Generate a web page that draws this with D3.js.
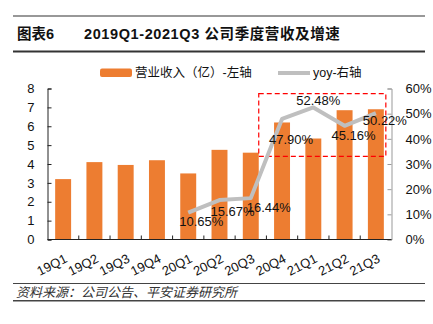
<!DOCTYPE html>
<html>
<head>
<meta charset="utf-8">
<script src="https://cdn.jsdelivr.net/npm/d3@7"></script>
<style>
  body { margin: 0; background: #fff; }
  svg { display: block; font-family: "Liberation Sans", Arial, "Noto Sans CJK SC", sans-serif; }
</style>
</head>
<body>
<svg id="chart" width="433" height="324"></svg>
<script>
const quarters = ["19Q1", "19Q2", "19Q3", "19Q4", "20Q1", "20Q2", "20Q3", "20Q4", "21Q1", "21Q2", "21Q3"];
const revenue = [3.2, 4.1, 3.95, 4.2, 3.5, 4.75, 4.6, 6.2, 5.35, 6.85, 6.9];
const yoyQuarters = ["20Q1", "20Q2", "20Q3", "20Q4", "21Q1", "21Q2", "21Q3"];
const yoy = [10.65, 15.67, 16.44, 47.90, 52.48, 45.16, 50.22];
const leftTicks = [0, 1, 2, 3, 4, 5, 6, 7, 8];
const rightTicks = [0, 10, 20, 30, 40, 50, 60];

const svg = d3.select("#chart");
const cjk = "'Liberation Sans', 'Noto Sans CJK SC', sans-serif";

// header
svg.append("line").attr("x1", 13).attr("x2", 425).attr("y1", 16).attr("y2", 16)
    .attr("stroke", "#333").attr("stroke-width", 1.2);
svg.append("line").attr("x1", 13).attr("x2", 425).attr("y1", 51.5).attr("y2", 51.5)
    .attr("stroke", "#333").attr("stroke-width", 2);
svg.append("text").attr("x", 17).attr("y", 39).attr("font-family", cjk)
    .attr("font-weight", "bold").attr("font-size", 14.5).attr("fill", "#111").text("图表6");
svg.append("text").attr("x", 84).attr("y", 39).attr("font-family", cjk)
    .attr("font-weight", "bold").attr("font-size", 14.5).attr("fill", "#111")
    .attr("letter-spacing", 0.6).text("2019Q1-2021Q3 公司季度营收及增速");

// footer
svg.append("line").attr("x1", 13).attr("x2", 425).attr("y1", 283.5).attr("y2", 283.5)
    .attr("stroke", "#444").attr("stroke-width", 1);
svg.append("line").attr("x1", 13).attr("x2", 425).attr("y1", 300.8).attr("y2", 300.8)
    .attr("stroke", "#444").attr("stroke-width", 1.5);
svg.append("text").attr("x", 16).attr("y", 297).attr("font-family", cjk)
    .attr("font-style", "italic").attr("font-size", 13).attr("fill", "#333")
    .text("资料来源：公司公告、平安证券研究所");

const plotLeft = 47.5, plotRight = 391.5, plotTop = 88.5, plotBottom = 239.5;

const x = d3.scaleBand().domain(quarters).range([plotLeft, plotRight])
    .paddingInner(0.49).paddingOuter(0.245);
const yL = d3.scaleLinear().domain([0, 8]).range([plotBottom, plotTop]);
const yR = d3.scaleLinear().domain([0, 60]).range([plotBottom, plotTop]);

// bars
svg.append("g").selectAll("rect").data(revenue).join("rect")
    .attr("x", (d, i) => x(quarters[i]))
    .attr("width", x.bandwidth())
    .attr("y", d => yL(d))
    .attr("height", d => yL(0) - yL(d))
    .attr("fill", "#ED7D31");

// left axis
const gL = svg.append("g").attr("transform", `translate(${plotLeft},0)`)
    .call(d3.axisLeft(yL).tickValues(leftTicks).tickSize(-4).tickPadding(13));
gL.select(".domain").attr("stroke", "#222");
gL.selectAll(".tick line").attr("stroke", "#222");
gL.selectAll("text").attr("font-size", 13).attr("fill", "#111")
    .attr("font-family", "'Liberation Sans', Arial, sans-serif");

// right axis
const gR = svg.append("g").attr("transform", `translate(${plotRight},0)`)
    .call(d3.axisRight(yR).tickValues(rightTicks).tickFormat(d => d + "%").tickSize(-4).tickPadding(14));
gR.select(".domain").attr("stroke", "#999");
gR.selectAll(".tick line").attr("stroke", "#999");
gR.selectAll("text").attr("font-size", 13).attr("fill", "#111")
    .attr("font-family", "'Liberation Sans', Arial, sans-serif");

// x axis, ticks at band boundaries
const gX = svg.append("g").attr("transform", `translate(0,${plotBottom})`);
gX.append("line").attr("x1", plotLeft).attr("x2", plotRight).attr("y1", 0).attr("y2", 0)
    .attr("stroke", "#222");
const gap = (x.step() - x.bandwidth()) / 2;
gX.selectAll(".bt").data(quarters.slice(1)).join("line")
    .attr("x1", d => x(d) - gap)
    .attr("x2", d => x(d) - gap)
    .attr("y1", 0).attr("y2", -4).attr("stroke", "#222");
gX.selectAll(".xl").data(quarters).join("text")
    .attr("text-anchor", "end")
    .attr("font-size", 13).attr("fill", "#111")
    .attr("font-family", "'Liberation Sans', Arial, sans-serif")
    .attr("transform", d => `translate(${x(d) + x.bandwidth() / 2 + 5},22) rotate(-27)`)
    .text(d => d);

// highlight box
const boxX0 = x("20Q3") + x.bandwidth();
const boxX1 = x("21Q3") + x.bandwidth() + 2;
svg.append("rect").attr("x", boxX0).attr("y", yR(58))
    .attr("width", boxX1 - boxX0).attr("height", yR(33) - yR(58))
    .attr("fill", "none").attr("stroke", "#FF0000").attr("stroke-width", 1.2)
    .attr("stroke-dasharray", "5,3");

// yoy line
const cx = q => x(q) + x.bandwidth() / 2;
const line = d3.line().x((d, i) => cx(yoyQuarters[i])).y(d => yR(d));
svg.append("path").datum(yoy).attr("d", line)
    .attr("fill", "none").attr("stroke", "#BFBFBF").attr("stroke-width", 4)
    .attr("stroke-linejoin", "round");

// data labels (offset of label centre from point)
const labelOffsets = [[13, 9], [13, 11], [18, 9.5], [9, 21], [5, -7], [9, 10], [9, 7]];
svg.append("g").selectAll("text").data(yoy).join("text")
    .attr("x", (d, i) => cx(yoyQuarters[i]) + labelOffsets[i][0])
    .attr("y", (d, i) => yR(d) + labelOffsets[i][1] + 4.5)
    .attr("text-anchor", "middle").attr("font-size", 13).attr("fill", "#111")
    .attr("font-family", "'Liberation Sans', Arial, sans-serif")
    .text(d => d.toFixed(2) + "%");

// legend
const lg = svg.append("g");
lg.append("rect").attr("x", 100).attr("y", 68.5).attr("width", 32).attr("height", 8.5)
    .attr("rx", 2).attr("fill", "#ED7D31");
lg.append("text").attr("x", 135).attr("y", 77).attr("font-size", 12.5)
    .attr("font-family", cjk).attr("fill", "#111").text("营业收入（亿）-左轴");
lg.append("line").attr("x1", 278).attr("x2", 310).attr("y1", 73).attr("y2", 73)
    .attr("stroke", "#BFBFBF").attr("stroke-width", 4);
lg.append("text").attr("x", 313).attr("y", 77).attr("font-size", 12.5)
    .attr("font-family", cjk).attr("fill", "#111").text("yoy-右轴");
</script>
</body>
</html>
